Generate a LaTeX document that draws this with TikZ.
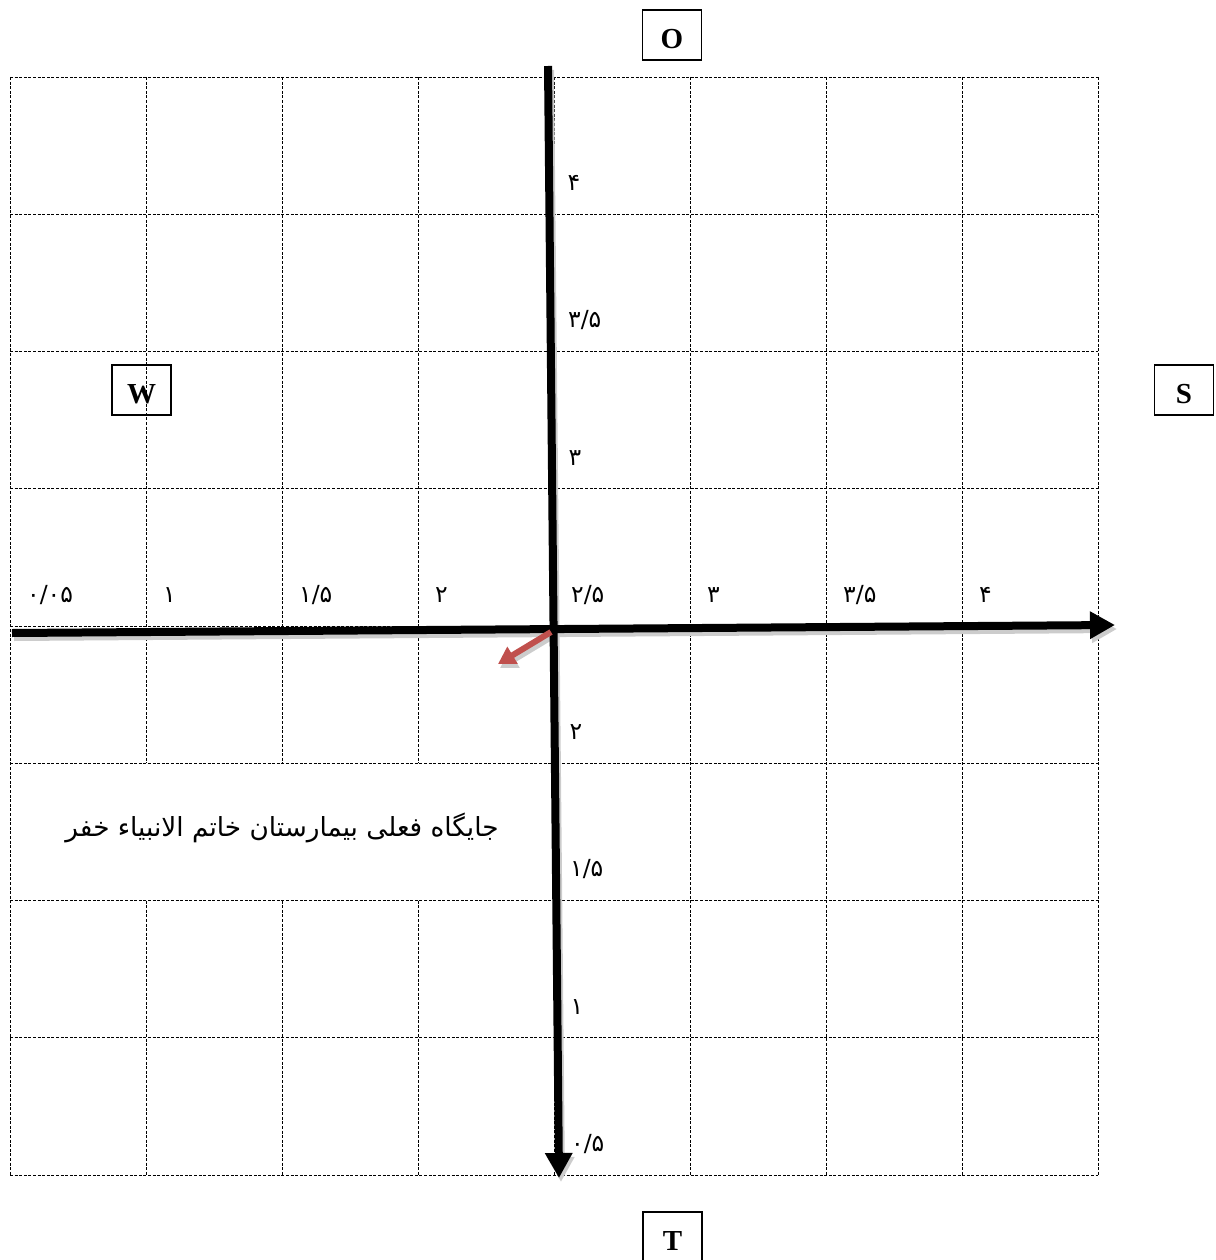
\documentclass[tikz,border=0pt]{standalone}
\usepackage{fontspec}
\setmainfont{Liberation Serif}
\newfontfamily\arabicfont[Script=Arabic]{DejaVu Sans}
\newfontfamily\digitfont{DejaVu Sans}
\TeXXeTstate=1
\usetikzlibrary{arrows.meta}
\definecolor{pointerred}{HTML}{C0504D}

\tikzset{
	gridline/.style={line width=0.8pt, dash pattern=on 3pt off 1.6pt},
	axis/.style={line width=8pt, -{Triangle[length=25pt,width=26pt]}},
	pointer/.style={line width=6pt, pointerred, -{Triangle[length=17pt,width=19pt]}},
	dirbox/.style={draw, line width=1.3pt, minimum width=59pt, minimum height=50pt, inner sep=0pt,
		text height=27pt, text depth=0pt, font=\fontsize{29}{29}\selectfont\bfseries},
	ticklabel/.style={anchor=west, inner sep=0pt, font=\digitfont\fontsize{23.5}{23.5}\selectfont},
	placetext/.style={inner sep=0pt, font=\arabicfont\fontsize{26.3}{26.3}\selectfont}
}

\begin{document}
\begin{tikzpicture}[x=1pt, y=-1pt]
	\useasboundingbox (0,0) rectangle (1215,1260);
	
	% dashed grid
	\foreach \i in {0,...,8}
		\draw [gridline] (10,77+\i*137.25) -- (1098,77+\i*137.25);
	\foreach \i in {0,4,5,6,7,8}
		\draw [gridline] (10+\i*136,77) -- (10+\i*136,1175);
	\foreach \i in {1,2,3}
	{
		\draw [gridline] (10+\i*136,77) -- (10+\i*136,763.25);
		\draw [gridline] (10+\i*136,900.5) -- (10+\i*136,1175);
	}
	
	\node [placetext] (place) at (282,828) {\beginR جایگاه فعلی بیمارستان خاتم الانبیاء خفر\endR};
	
	% scale labels
	\foreach \i/\lab in {0/{۰/۰۵}, 1/۱, 2/{۱/۵}, 3/۲, 4/{۲/۵}, 5/۳, 6/{۳/۵}, 7/۴}
		\node [ticklabel] (xl\i) at (27+\i*136,595) {\lab};
	\foreach \i/\lab in {1/۴, 2/{۳/۵}, 3/۳, 5/۲, 6/{۱/۵}, 7/۱, 8/{۰/۵}}
		\node [ticklabel] (yl\i) at (567+\i*0.5,46+\i*137.25) {\lab};
	
	% direction boxes
	\foreach \x/\y/\dir in {672/35/O, 141.5/390/W, 1184/390/S, 672.5/1237/T}
		\node [dirbox] (box\dir) at (\x,\y) {\dir};
	
	% axes
	\coordinate (xstart) at (12,633);
	\coordinate (xend) at (1115,625);
	\coordinate (ystart) at (548,66);
	\coordinate (yend) at (559,1178);
	\coordinate (origin) at (551,632);
	\coordinate (pointerend) at (498,664);
	
	\foreach \a/\b in {xstart/xend, ystart/yend}
		\draw [axis, black!20] ([shift={(2,4)}]\a) -- ([shift={(2,4)}]\b);
	\draw [pointer, black!20] ([shift={(2,4)}]origin) -- ([shift={(2,4)}]pointerend);
	\draw [axis] (xstart) -- (xend);
	\draw [axis] (ystart) -- (yend);
	\draw [pointer] (origin) -- (pointerend);
\end{tikzpicture}
\end{document}
